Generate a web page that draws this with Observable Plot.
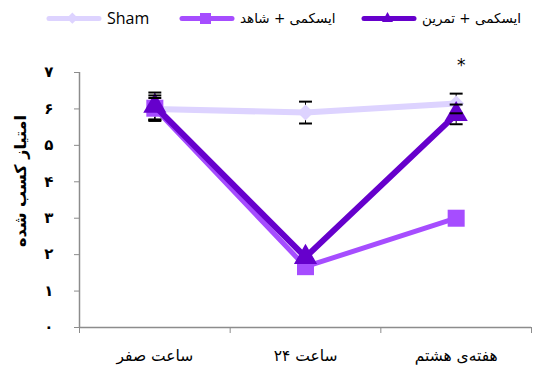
<!DOCTYPE html>
<html>
<head>
<meta charset="utf-8">
<script src="https://cdn.jsdelivr.net/npm/d3@7"></script>
<script src="https://cdn.jsdelivr.net/npm/@observablehq/plot@0.6"></script>
<style>
  html, body { margin: 0; padding: 0; background: #fff; }
  #legend { height: 36px; display: flex; align-items: center; padding-left: 45px; box-sizing: border-box;
            font-family: "DejaVu Sans", sans-serif; font-size: 13.5px; color: #000; }
  .item { display: flex; align-items: center; flex: none; }
  .item span { margin-left: 4px; white-space: nowrap; }
  .item span.latin { font-family: "Open Sans", sans-serif; font-size: 16px; }
</style>
</head>
<body>
<div id="legend"></div>
<div id="chart"></div>
<script>
const categories = ["ساعت صفر", "ساعت ۲۴", "هفته‌ی هشتم"];
const seriesNames = ["Sham", "ایسکمی + شاهد", "ایسکمی + تمرین"];
const seriesColors = ["#ddd3ff", "#a64dff", "#6600cc"];
const seriesSymbols = ["diamond2", "square", "triangle"];
const shamValues = [6.0, 5.9, 6.15];
const shamErrors = [0.3, 0.3, 0.27];
const shahedValues = [6.02, 1.67, 3.0];
const shahedErrors = [0.35, 0, 0];
const exerciseValues = [6.08, 1.93, 5.85];
const exerciseErrors = [0.37, 0, 0.27];
const yTicks = [0, 1, 2, 3, 4, 5, 6, 7];
const yTickLabels = ["۰", "۱", "۲", "۳", "۴", "۵", "۶", "۷"];
const yLabel = "امتیاز کسب شده";
const significance = [{cat: 2, value: 7.2, text: "*"}];

const allValues = [shamValues, shahedValues, exerciseValues];
const allErrors = [shamErrors, shahedErrors, exerciseErrors];
const rows = [];
seriesNames.forEach((s, si) => {
  categories.forEach((c, ci) => {
    rows.push({series: s, si, xi: ci + 0.5, value: allValues[si][ci], error: allErrors[si][ci]});
  });
});
const errRows = rows.filter(d => d.error > 0);

const cap = {
  draw(context, size) {
    const w = Math.sqrt(size);
    context.moveTo(-w / 2, 0);
    context.lineTo(w / 2, 0);
  }
};

// legend
const legend = document.getElementById("legend");
const itemWidths = [133, 182, 170];
const legendMarker = {
  "diamond2": (c) => `<rect x="23" y="2" width="8" height="8" transform="rotate(45 27 6.5)" fill="${c}"/>`,
  "square": (c) => `<rect x="22" y="1" width="11" height="11" fill="${c}"/>`,
  "triangle": (c) => `<polygon points="27.5,0 33,10 22,10" fill="${c}"/>`
};
seriesNames.forEach((s, i) => {
  const item = document.createElement("div");
  item.className = "item";
  item.style.width = itemWidths[i] + "px";
  const latin = /^[A-Za-z]/.test(s);
  item.innerHTML = `<svg width="58" height="13"><line x1="4" x2="54" y1="6.5" y2="6.5" stroke="${seriesColors[i]}" stroke-width="5" stroke-linecap="round"/>${legendMarker[seriesSymbols[i]](seriesColors[i])}</svg><span class="${latin ? "latin" : ""}">${s}</span>`;
  legend.appendChild(item);
});

const marks = [
  Plot.axisY({ticks: yTicks, tickSize: 5, tickPadding: 21, tickFormat: d => yTickLabels[d], fontSize: 15, fontWeight: "bold", stroke: "#8c8c8c", label: null}),
  Plot.axisX({ticks: [0, 1, 2, 3], tickSize: 6, tickFormat: () => "", stroke: "#8c8c8c", label: null}),
  Plot.axisX({ticks: categories.map((c, i) => i + 0.5), tickSize: 0, tickPadding: 22, tickFormat: d => categories[Math.floor(d)], fontSize: 15.5, label: null}),
  Plot.ruleX([0], {stroke: "#8c8c8c", strokeWidth: 1.5}),
  Plot.ruleY([0], {stroke: "#8c8c8c", strokeWidth: 1.5}),
  Plot.text([yLabel], {frameAnchor: "left", textAnchor: "middle", dx: -59, dy: -19, rotate: -90, fontSize: 16, fontWeight: "bold"}),
  Plot.ruleX(errRows, {x: "xi", y1: d => d.value - d.error, y2: d => d.value + d.error, stroke: "#000", strokeWidth: 1})
];
seriesNames.forEach((s, si) => {
  const r = rows.filter(d => d.si === si);
  marks.push(Plot.line(r, {x: "xi", y: "value", stroke: seriesColors[si], strokeWidth: si === 1 ? 5 : 6, strokeLinejoin: "round"}));
  const rr = seriesSymbols[si] === "square" ? 9.6 : seriesSymbols[si] === "triangle" ? 8.6 : 7.2;
  marks.push(Plot.dot(r, {x: "xi", y: "value", symbol: seriesSymbols[si], r: rr, fill: seriesColors[si], stroke: "none"}));
});
marks.push(Plot.dot(errRows, {x: "xi", y: d => d.value + d.error, symbol: cap, r: 7.3, stroke: "#000", strokeWidth: 2, fill: "none"}));
marks.push(Plot.dot(errRows, {x: "xi", y: d => d.value - d.error, symbol: cap, r: 7.3, stroke: "#000", strokeWidth: 2, fill: "none"}));
marks.push(Plot.text(significance, {x: d => d.cat + 0.5, y: "value", text: "text", fontSize: 17, dx: 5}));

const chart = Plot.plot({
  width: 533,
  height: 329,
  marginTop: 36,
  marginBottom: 38,
  marginLeft: 79,
  marginRight: 2,
  x: {domain: [0, 3]},
  y: {domain: [0, 7]},
  style: {fontFamily: "DejaVu Sans, sans-serif", color: "#000", background: "#fff", overflow: "visible"},
  marks
});
document.getElementById("chart").appendChild(chart);
</script>
</body>
</html>
